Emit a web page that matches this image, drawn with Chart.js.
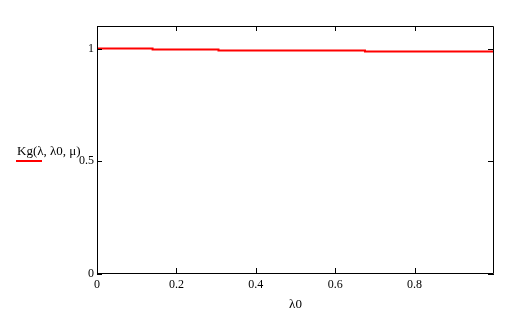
<!DOCTYPE html>
<html>
<head>
<meta charset="utf-8">
<script src="https://cdn.jsdelivr.net/npm/chart.js@4"></script>
<style>
html,body{margin:0;padding:0;background:#fff;}
#wrap{position:relative;width:516px;height:314px;}
</style>
</head>
<body>
<div id="wrap"><canvas id="c" width="516" height="314"></canvas></div>
<script>
const xValues = [0, 0.14, 0.306, 0.675, 1.0];
const yValues = [1.0, 0.996, 0.991, 0.987, 0.987];
const xTicks = [0, 0.2, 0.4, 0.6, 0.8];
const yTicks = [0, 0.5, 1];
const yLabel = 'Kg(λ, λ0, μ)';
const xLabel = 'λ0';

const FONT = {family: '"Liberation Serif", "Times New Roman", serif', size: 12};

const innerTicks = {
  id: 'innerTicks',
  afterDraw(chart) {
    const {ctx, chartArea: a, scales: {x, y}} = chart;
    ctx.save();
    ctx.strokeStyle = '#000';
    ctx.lineWidth = 1;
    ctx.beginPath();
    ctx.rect(a.left + 0.5, a.top + 0.5, a.right - a.left - 1, a.bottom - a.top - 1);
    xTicks.forEach(v => {
      const px = Math.round(x.getPixelForValue(v)) + 0.5;
      ctx.moveTo(px, a.bottom); ctx.lineTo(px, a.bottom - 6);
      ctx.moveTo(px, a.top); ctx.lineTo(px, a.top + 5);
    });
    yTicks.forEach(v => {
      const py = Math.round(y.getPixelForValue(v)) + 0.5;
      ctx.moveTo(a.left, py); ctx.lineTo(a.left + 5, py);
      ctx.moveTo(a.right, py); ctx.lineTo(a.right - 6, py);
    });
    ctx.stroke();
    // y-axis legend-like label
    ctx.fillStyle = '#000';
    ctx.font = '13px ' + FONT.family;
    ctx.textBaseline = 'alphabetic';
    ctx.textAlign = 'left';
    ctx.fillText(yLabel, 17, 155);
    ctx.strokeStyle = '#ff0000';
    ctx.lineWidth = 2;
    ctx.beginPath();
    ctx.moveTo(16, 161); ctx.lineTo(42, 161);
    ctx.stroke();
    // x title
    ctx.textAlign = 'center';
    ctx.fillText(xLabel, (a.left + a.right) / 2, 308);
    ctx.restore();
  }
};

new Chart(document.getElementById('c'), {
  type: 'line',
  data: {
    datasets: [{
      data: xValues.map((v, i) => ({x: v, y: yValues[i]})),
      borderColor: '#ff0000',
      borderWidth: 2,
      pointRadius: 0,
      stepped: true,
      fill: false
    }]
  },
  options: {
    responsive: false,
    animation: false,
    devicePixelRatio: 1,
    layout: {padding: {top: 26, right: 22, left: 0, bottom: 0}},
    plugins: {legend: {display: false}, tooltip: {enabled: false}},
    scales: {
      x: {
        type: 'linear', min: 0, max: 1,
        afterBuildTicks: s => { s.ticks = xTicks.map(v => ({value: v})); },
        afterFit: s => { s.height = 40; },
        grid: {display: false, drawTicks: false},
        border: {display: false},
        ticks: {color: '#000', font: FONT, padding: 4, maxRotation: 0,
                callback: v => String(v)}
      },
      y: {
        type: 'linear', min: 0, max: 1.1,
        afterBuildTicks: s => { s.ticks = yTicks.map(v => ({value: v})); },
        afterFit: s => { s.width = 97; },
        grid: {display: false, drawTicks: false},
        border: {display: false},
        ticks: {color: '#000', font: FONT, padding: 3, callback: v => String(v)}
      }
    }
  },
  plugins: [innerTicks]
});
</script>
</body>
</html>
